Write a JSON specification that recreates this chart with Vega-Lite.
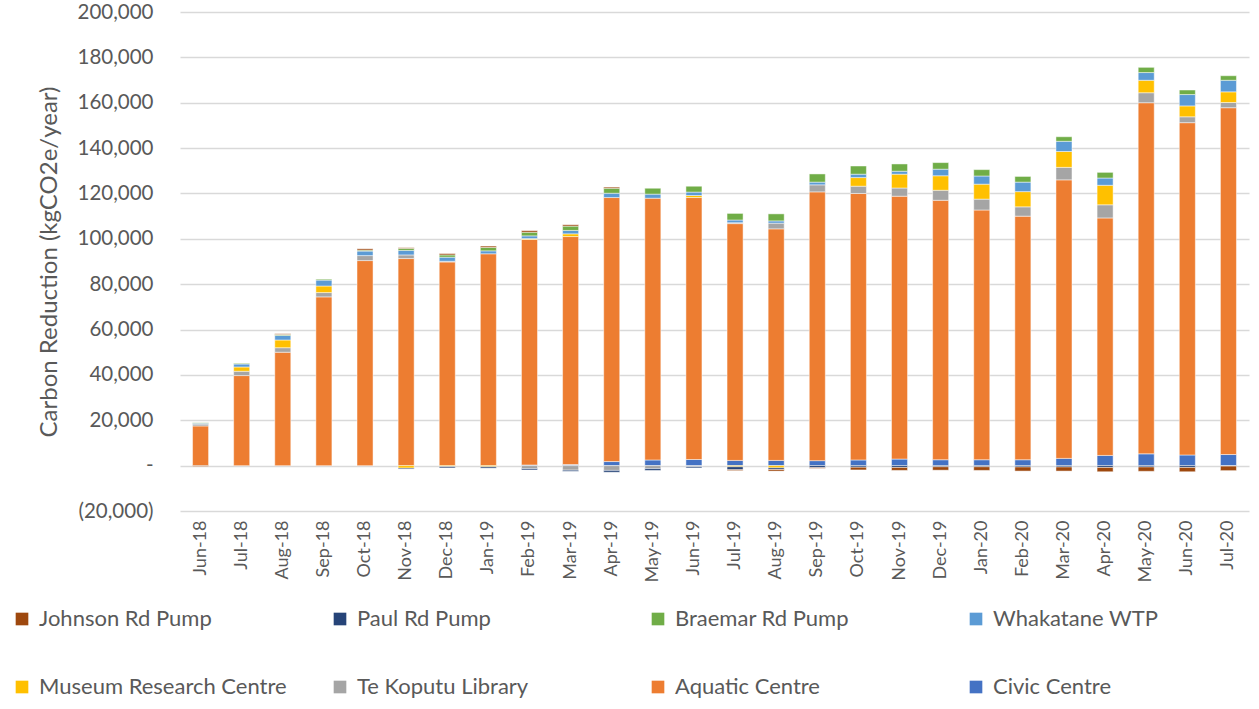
{
  "$schema": "https://vega.github.io/schema/vega-lite/v6.json",
  "width": 1069,
  "height": 499,
  "autosize": {"type": "none"},
  "padding": {"left": 180, "top": 12, "right": 10, "bottom": 198},
  "background": "white",
  "config": {
    "view": {"stroke": null},
    "font": "Lato",
    "axis": {"labelColor": "#595959", "titleColor": "#595959", "labelFont": "Lato", "titleFont": "Lato"},
    "legend": {"labelFont": "Lato"}
  },
  "data": {
    "values": [
      {"m": "Jun-18", "Civic Centre": 0, "Aquatic Centre": 17500, "Te Koputu Library": 800, "Museum Research Centre": 0, "Whakatane WTP": 400, "Braemar Rd Pump": 200, "Paul Rd Pump": 0, "Johnson Rd Pump": -400},
      {"m": "Jul-18", "Civic Centre": 0, "Aquatic Centre": 39700, "Te Koputu Library": 1900, "Museum Research Centre": 1900, "Whakatane WTP": 1300, "Braemar Rd Pump": 300, "Paul Rd Pump": 0, "Johnson Rd Pump": 0},
      {"m": "Aug-18", "Civic Centre": 0, "Aquatic Centre": 50000, "Te Koputu Library": 2000, "Museum Research Centre": 3400, "Whakatane WTP": 2000, "Braemar Rd Pump": 400, "Paul Rd Pump": 0, "Johnson Rd Pump": 300},
      {"m": "Sep-18", "Civic Centre": 0, "Aquatic Centre": 74400, "Te Koputu Library": 1900, "Museum Research Centre": 2900, "Whakatane WTP": 2600, "Braemar Rd Pump": 400, "Paul Rd Pump": 0, "Johnson Rd Pump": 0},
      {"m": "Oct-18", "Civic Centre": 0, "Aquatic Centre": 90400, "Te Koputu Library": 2200, "Museum Research Centre": 0, "Whakatane WTP": 2000, "Braemar Rd Pump": 400, "Paul Rd Pump": 0, "Johnson Rd Pump": 600},
      {"m": "Nov-18", "Civic Centre": 0, "Aquatic Centre": 91300, "Te Koputu Library": 1600, "Museum Research Centre": -1100, "Whakatane WTP": 2000, "Braemar Rd Pump": 900, "Paul Rd Pump": -400, "Johnson Rd Pump": 300},
      {"m": "Dec-18", "Civic Centre": 0, "Aquatic Centre": 89800, "Te Koputu Library": 300, "Museum Research Centre": -400, "Whakatane WTP": 1800, "Braemar Rd Pump": 1000, "Paul Rd Pump": -600, "Johnson Rd Pump": 600},
      {"m": "Jan-19", "Civic Centre": 0, "Aquatic Centre": 93400, "Te Koputu Library": 0, "Museum Research Centre": -500, "Whakatane WTP": 1300, "Braemar Rd Pump": 1500, "Paul Rd Pump": -600, "Johnson Rd Pump": 600},
      {"m": "Feb-19", "Civic Centre": 300, "Aquatic Centre": 99400, "Te Koputu Library": -1300, "Museum Research Centre": 400, "Whakatane WTP": 1200, "Braemar Rd Pump": 1600, "Paul Rd Pump": -600, "Johnson Rd Pump": 700},
      {"m": "Mar-19", "Civic Centre": 500, "Aquatic Centre": 100500, "Te Koputu Library": -2000, "Museum Research Centre": 1200, "Whakatane WTP": 1500, "Braemar Rd Pump": 1900, "Paul Rd Pump": -500, "Johnson Rd Pump": 600},
      {"m": "Apr-19", "Civic Centre": 1800, "Aquatic Centre": 116400, "Te Koputu Library": -2100, "Museum Research Centre": 0, "Whakatane WTP": 1900, "Braemar Rd Pump": 2200, "Paul Rd Pump": -800, "Johnson Rd Pump": 500},
      {"m": "May-19", "Civic Centre": 2500, "Aquatic Centre": 115400, "Te Koputu Library": -1300, "Museum Research Centre": 0, "Whakatane WTP": 1800, "Braemar Rd Pump": 2600, "Paul Rd Pump": -800, "Johnson Rd Pump": 0},
      {"m": "Jun-19", "Civic Centre": 2700, "Aquatic Centre": 115500, "Te Koputu Library": -500, "Museum Research Centre": 900, "Whakatane WTP": 1500, "Braemar Rd Pump": 2600, "Paul Rd Pump": -500, "Johnson Rd Pump": 0},
      {"m": "Jul-19", "Civic Centre": 2300, "Aquatic Centre": 104400, "Te Koputu Library": 400, "Museum Research Centre": -500, "Whakatane WTP": 1200, "Braemar Rd Pump": 2900, "Paul Rd Pump": -1300, "Johnson Rd Pump": -400},
      {"m": "Aug-19", "Civic Centre": 2300, "Aquatic Centre": 102100, "Te Koputu Library": 2500, "Museum Research Centre": -1000, "Whakatane WTP": 1000, "Braemar Rd Pump": 3100, "Paul Rd Pump": -700, "Johnson Rd Pump": -700},
      {"m": "Sep-19", "Civic Centre": 2200, "Aquatic Centre": 118500, "Te Koputu Library": 3100, "Museum Research Centre": 0, "Whakatane WTP": 1200, "Braemar Rd Pump": 3600, "Paul Rd Pump": -900, "Johnson Rd Pump": -300},
      {"m": "Oct-19", "Civic Centre": 2500, "Aquatic Centre": 117500, "Te Koputu Library": 3200, "Museum Research Centre": 3800, "Whakatane WTP": 1500, "Braemar Rd Pump": 3600, "Paul Rd Pump": -700, "Johnson Rd Pump": -1200},
      {"m": "Nov-19", "Civic Centre": 2900, "Aquatic Centre": 115900, "Te Koputu Library": 3600, "Museum Research Centre": 6100, "Whakatane WTP": 1300, "Braemar Rd Pump": 3200, "Paul Rd Pump": -800, "Johnson Rd Pump": -1300},
      {"m": "Dec-19", "Civic Centre": 2600, "Aquatic Centre": 114400, "Te Koputu Library": 4400, "Museum Research Centre": 6400, "Whakatane WTP": 2900, "Braemar Rd Pump": 2900, "Paul Rd Pump": -500, "Johnson Rd Pump": -1500},
      {"m": "Jan-20", "Civic Centre": 2600, "Aquatic Centre": 110100, "Te Koputu Library": 4800, "Museum Research Centre": 6600, "Whakatane WTP": 3600, "Braemar Rd Pump": 2800, "Paul Rd Pump": -500, "Johnson Rd Pump": -1600},
      {"m": "Feb-20", "Civic Centre": 2600, "Aquatic Centre": 107400, "Te Koputu Library": 4100, "Museum Research Centre": 6700, "Whakatane WTP": 4200, "Braemar Rd Pump": 2500, "Paul Rd Pump": -600, "Johnson Rd Pump": -1800},
      {"m": "Mar-20", "Civic Centre": 3200, "Aquatic Centre": 122800, "Te Koputu Library": 5500, "Museum Research Centre": 7000, "Whakatane WTP": 4500, "Braemar Rd Pump": 2000, "Paul Rd Pump": -600, "Johnson Rd Pump": -1800},
      {"m": "Apr-20", "Civic Centre": 4500, "Aquatic Centre": 104700, "Te Koputu Library": 5800, "Museum Research Centre": 8600, "Whakatane WTP": 3200, "Braemar Rd Pump": 2500, "Paul Rd Pump": -800, "Johnson Rd Pump": -1900},
      {"m": "May-20", "Civic Centre": 5200, "Aquatic Centre": 154800, "Te Koputu Library": 4400, "Museum Research Centre": 5500, "Whakatane WTP": 3400, "Braemar Rd Pump": 2300, "Paul Rd Pump": -600, "Johnson Rd Pump": -1900},
      {"m": "Jun-20", "Civic Centre": 4700, "Aquatic Centre": 146500, "Te Koputu Library": 2600, "Museum Research Centre": 4800, "Whakatane WTP": 5000, "Braemar Rd Pump": 2000, "Paul Rd Pump": -800, "Johnson Rd Pump": -1900},
      {"m": "Jul-20", "Civic Centre": 4900, "Aquatic Centre": 152900, "Te Koputu Library": 2300, "Museum Research Centre": 4700, "Whakatane WTP": 5100, "Braemar Rd Pump": 2000, "Paul Rd Pump": -200, "Johnson Rd Pump": -2000}
    ]
  },
  "transform": [
    {"fold": ["Civic Centre", "Aquatic Centre", "Te Koputu Library", "Museum Research Centre", "Whakatane WTP", "Braemar Rd Pump", "Paul Rd Pump", "Johnson Rd Pump"], "as": ["series", "value"]},
    {"filter": "datum.value != 0"},
    {"calculate": "indexof(['Civic Centre', 'Aquatic Centre', 'Te Koputu Library', 'Museum Research Centre', 'Whakatane WTP', 'Braemar Rd Pump', 'Paul Rd Pump', 'Johnson Rd Pump'], datum.series)", "as": "stackIndex"}
  ],
  "mark": {"type": "bar", "stroke": "white", "strokeWidth": 0.8, "strokeOpacity": 0.6},
  "encoding": {
    "x": {
      "field": "m", "type": "nominal", "sort": null, "title": null,
      "scale": {"paddingInner": 0.61, "paddingOuter": 0.305},
      "axis": {"labelAngle": -90, "labelPadding": 9, "ticks": false, "domain": false, "labelFontSize": 18, "grid": false}
    },
    "y": {
      "field": "value", "type": "quantitative", "stack": "zero",
      "title": "Carbon Reduction (kgCO2e/year)",
      "scale": {"domain": [-20000, 200000], "nice": false, "zero": false},
      "axis": {
        "values": [-20000, 0, 20000, 40000, 60000, 80000, 100000, 120000, 140000, 160000, 180000, 200000],
        "labelExpr": "datum.value == 0 ? '-' : (datum.value < 0 ? '(' + format(-datum.value, ',') + ')' : format(datum.value, ','))",
        "labelFontSize": 20.5, "labelPadding": 27, "ticks": false, "domain": false,
        "grid": true, "gridColor": "#d9d9d9", "gridWidth": 1.3,
        "titleFontSize": 24, "titleFontWeight": "normal", "titlePadding": 16
      }
    },
    "color": {
      "field": "series", "type": "nominal", "title": null,
      "scale": {
        "domain": ["Johnson Rd Pump", "Paul Rd Pump", "Braemar Rd Pump", "Whakatane WTP", "Museum Research Centre", "Te Koputu Library", "Aquatic Centre", "Civic Centre"],
        "range": ["#9E480E", "#264478", "#70AD47", "#5B9BD5", "#FFC000", "#A5A5A5", "#ED7D31", "#4472C4"]
      },
      "legend": {
        "orient": "none", "legendX": -169, "legendY": 596,
        "direction": "horizontal", "columns": 4, "gridAlign": "all",
        "columnPadding": 42, "rowPadding": 46,
        "symbolType": "square", "symbolSize": 160, "symbolStrokeWidth": 0,
        "labelFontSize": 22, "labelColor": "#595959", "labelOffset": 6, "labelLimit": 400
      }
    },
    "order": {"field": "stackIndex", "type": "quantitative", "sort": "ascending"}
  }
}
